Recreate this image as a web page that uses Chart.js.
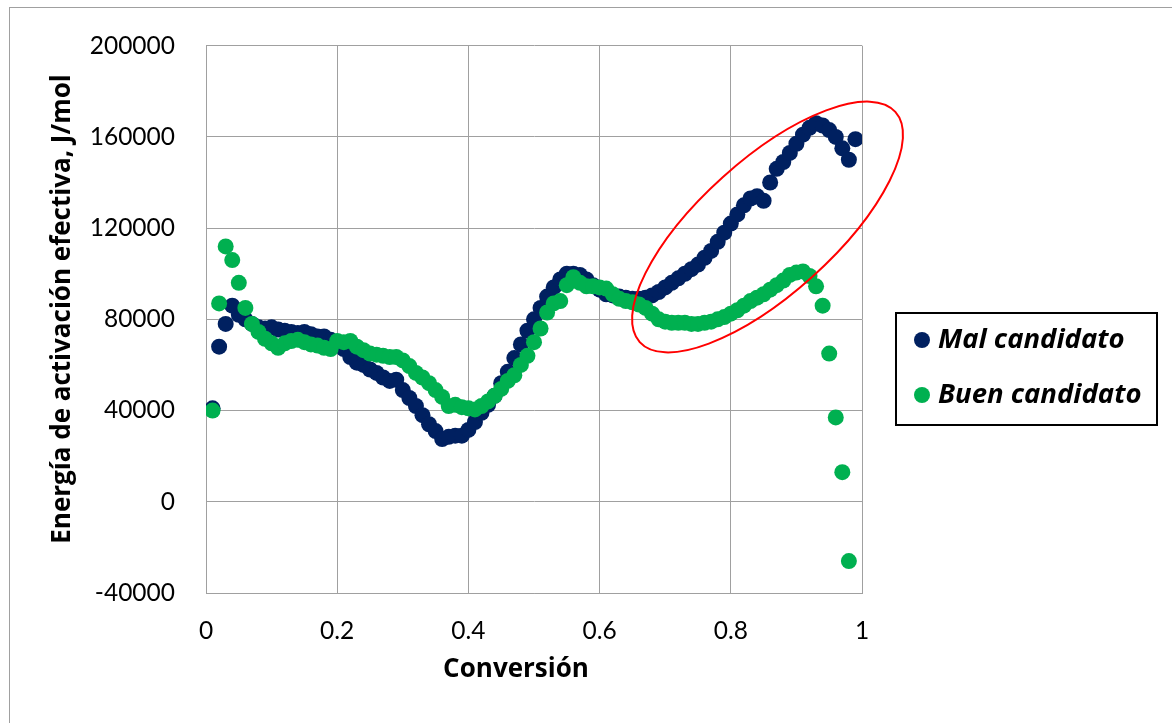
<!DOCTYPE html>
<html>
<head>
<meta charset="utf-8">
<script src="https://cdn.jsdelivr.net/npm/chart.js@4.4.1/dist/chart.umd.min.js"></script>
<style>
  html, body { margin: 0; padding: 0; background: #fff; }
  #wrap { width: 1172px; height: 723px; }
</style>
</head>
<body>
<div id="wrap"><canvas id="energia" width="1172" height="723"></canvas></div>
<script>
/* Energía de activación efectiva vs conversión */
const conversion = [0.01, 0.02, 0.03, 0.04, 0.05, 0.06, 0.07, 0.08, 0.09, 0.10,
    0.11, 0.12, 0.13, 0.14, 0.15, 0.16, 0.17, 0.18, 0.19, 0.20,
    0.21, 0.22, 0.23, 0.24, 0.25, 0.26, 0.27, 0.28, 0.29, 0.30,
    0.31, 0.32, 0.33, 0.34, 0.35, 0.36, 0.37, 0.38, 0.39, 0.40,
    0.41, 0.42, 0.43, 0.44, 0.45, 0.46, 0.47, 0.48, 0.49, 0.50,
    0.51, 0.52, 0.53, 0.54, 0.55, 0.56, 0.57, 0.58, 0.59, 0.60,
    0.61, 0.62, 0.63, 0.64, 0.65, 0.66, 0.67, 0.68, 0.69, 0.70,
    0.71, 0.72, 0.73, 0.74, 0.75, 0.76, 0.77, 0.78, 0.79, 0.80,
    0.81, 0.82, 0.83, 0.84, 0.85, 0.86, 0.87, 0.88, 0.89, 0.90,
    0.91, 0.92, 0.93, 0.94, 0.95, 0.96, 0.97, 0.98, 0.99];

const malCandidato = [41000, 68000, 78000, 86000, 82000, 80000, 78000, 76500, 76000, 76500,
    75500, 75000, 74500, 74000, 74500, 73500, 72500, 72500, 71000, 69500,
    67000, 63500, 61000, 60000, 58000, 56500, 54500, 53000, 53500, 49000,
    45500, 42000, 38000, 34000, 31000, 27500, 28500, 29000, 29000, 31500,
    35000, 39000, 42500, 46500, 52000, 57000, 63000, 69000, 75000, 80000,
    85000, 90000, 94000, 97500, 100000, 100000, 99500, 97500, 95000, 93000,
    91000, 90500, 90000, 89500, 89000, 89000, 89500, 90500, 92000, 94000,
    96000, 98000, 100000, 102000, 104000, 107000, 110000, 114000, 118000, 122000,
    126000, 130000, 133000, 134000, 132000, 140000, 146000, 149000, 153000, 157000,
    161000, 164000, 166000, 165000, 163000, 160000, 155000, 150000, 159000];

const buenCandidato = [40000, 87000, 112000, 106000, 96000, 85000, 78000, 74500, 71500, 69500,
    67500, 69500, 70500, 71000, 70000, 69000, 68500, 67500, 67000, 70500,
    70000, 70500, 68000, 66500, 65000, 64500, 64000, 63500, 63500, 62000,
    59500, 56500, 54500, 52000, 49000, 46000, 42000, 42500, 41500, 41000,
    40500, 42000, 44000, 46500, 49500, 53000, 55500, 60000, 64000, 70000,
    76000, 83000, 87000, 88000, 95000, 98500, 96000, 94500, 94500, 94000,
    93500, 91000, 89000, 88000, 87500, 86500, 85000, 82500, 80000, 79000,
    78500, 78500, 78500, 78000, 78000, 78500, 79000, 80000, 81000, 82500,
    84000, 86000, 88000, 89500, 91000, 93000, 95000, 97000, 99500, 100500,
    101000, 99000, 94500, 86000, 65000, 37000, 13000, -26000];

const yTicks = [-40000, 0, 40000, 80000, 120000, 160000, 200000];
const xTicks = [0, 0.2, 0.4, 0.6, 0.8, 1];

const navy = '#002060';
const verde = '#00B050';
const gridGray = '#A0A0A0';

function pares(xs, ys) {
    return ys.map((v, i) => ({ x: xs[i], y: v }));
}

// marco exterior, titulos, leyenda y la elipse roja
const extras = {
    id: 'extras',
    beforeDraw(chart) {
        const c = chart.ctx;
        c.save();
        c.strokeStyle = gridGray;
        c.lineWidth = 1;
        c.strokeRect(9.5, 7.5, 1180, 740);
        c.restore();
    },
    afterDatasetsDraw(chart) {
        const c = chart.ctx;
        const sx = chart.scales.x, sy = chart.scales.y;
        c.save();
        c.strokeStyle = '#FF0000';
        c.lineWidth = 2;
        c.beginPath();
        c.ellipse(sx.getPixelForValue(0.856), sy.getPixelForValue(120500), 172, 67, -42 * Math.PI / 180, 0, Math.PI * 2);
        c.stroke();
        c.restore();
    },
    afterDraw(chart) {
        const c = chart.ctx;
        c.save();
        c.fillStyle = '#000';
        c.font = 'bold 26px "Open Sans"';
        c.textAlign = 'center';
        c.textBaseline = 'middle';
        c.fillText('Conversión', 516, 670);
        c.translate(63, 309);
        c.rotate(-Math.PI / 2);
        c.fillText('Energía de activación efectiva, J/mol', 0, 0);
        c.restore();

        // leyenda
        c.save();
        c.strokeStyle = '#000';
        c.lineWidth = 2;
        c.strokeRect(896, 313, 261, 112);
        c.font = 'italic bold 27.5px "Open Sans"';
        c.textAlign = 'left';
        c.textBaseline = 'middle';
        chart.data.datasets.forEach((ds, i) => {
            const y = 340 + i * 55;
            c.fillStyle = ds.backgroundColor;
            c.beginPath();
            c.arc(922, y, 8, 0, Math.PI * 2);
            c.fill();
            c.fillStyle = '#000';
            c.fillText(ds.label, 938, y);
        });
        c.restore();
    }
};

var ctx = document.getElementById('energia').getContext('2d');
var myChart = new Chart(ctx, {
    type: 'scatter',
    data: {
        datasets: [{
            label: 'Mal candidato',
            data: pares(conversion, malCandidato),
            backgroundColor: navy,
            borderWidth: 0,
            pointRadius: 8,
            order: 1
        }, {
            label: 'Buen candidato',
            data: pares(conversion, buenCandidato),
            backgroundColor: verde,
            borderWidth: 0,
            pointRadius: 8,
            order: 0
        }]
    },
    options: {
        responsive: false,
        animation: false,
        layout: { padding: { left: 0, top: 39, right: 310, bottom: 0 } },
        plugins: {
            legend: { display: false },
            tooltip: { enabled: false }
        },
        scales: {
            x: {
                type: 'linear',
                min: xTicks[0],
                max: xTicks[xTicks.length - 1],
                afterFit(scale) { scale.height = 130; },
                afterBuildTicks(scale) { scale.ticks = xTicks.map(v => ({ value: v })); },
                grid: { color: gridGray, drawTicks: false },
                border: { color: gridGray },
                ticks: {
                    padding: 23,
                    color: '#000',
                    font: { family: 'Lato', size: 24.5 },
                    callback: v => String(Math.round(v * 10) / 10)
                }
            },
            y: {
                min: yTicks[0],
                max: yTicks[yTicks.length - 1],
                afterFit(scale) { scale.width = 206; },
                afterBuildTicks(scale) { scale.ticks = yTicks.map(v => ({ value: v })); },
                grid: { color: gridGray, drawTicks: false },
                border: { color: gridGray },
                ticks: {
                    padding: 31,
                    color: '#000',
                    font: { family: 'Lato', size: 24.5 },
                    callback: v => String(v)
                }
            }
        }
    },
    plugins: [extras]
});
</script>
</body>
</html>
